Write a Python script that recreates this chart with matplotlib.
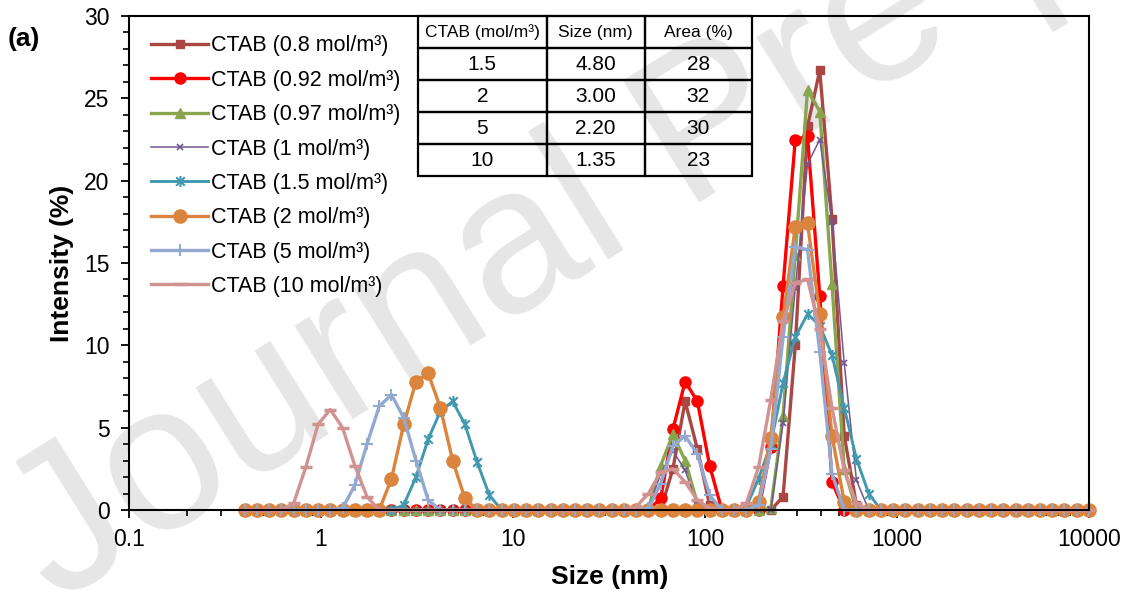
import matplotlib
matplotlib.use("Agg")
import matplotlib.pyplot as plt
from matplotlib.path import Path
from matplotlib.ticker import LogLocator, FixedLocator, MultipleLocator, NullFormatter

plt.rcParams['font.family'] = ['Liberation Sans', 'DejaVu Sans']

# DLS size classes (nm)
size_nm = [0.4, 0.4632, 0.5365, 0.6213, 0.7195, 0.8332, 0.9649, 1.117, 1.294, 1.499,
           1.736, 2.010, 2.328, 2.696, 3.122, 3.615, 4.187, 4.849, 5.615, 6.503,
           7.531, 8.721, 10.10, 11.70, 13.54, 15.69, 18.17, 21.04, 24.36, 28.21,
           32.67, 37.84, 43.82, 50.75, 58.77, 68.06, 78.82, 91.28, 105.7, 122.4,
           141.8, 164.2, 190.1, 220.2, 255.0, 295.3, 342.0, 396.1, 458.7, 531.2,
           615.1, 712.4, 825.0, 955.4, 1106, 1281, 1484, 1718, 1990, 2305,
           2669, 3091, 3580, 4145, 4801, 5560, 6439, 7456, 8635, 10000]

# intensity (%) at the size classes where it is not zero
ctab_08 = {68.06: 2.5, 78.82: 6.6, 91.28: 3.7, 105.7: 0.3,
           255.0: 0.8, 295.3: 10.0, 342.0: 23.3, 396.1: 26.7, 458.7: 17.7, 531.2: 4.5, 615.1: 0.3}
ctab_092 = {58.77: 0.7, 68.06: 4.9, 78.82: 7.8, 91.28: 6.6, 105.7: 2.7,
            220.2: 3.8, 255.0: 13.6, 295.3: 22.5, 342.0: 22.7, 396.1: 13.0, 458.7: 1.7}
ctab_097 = {50.75: 0.1, 58.77: 2.7, 68.06: 4.6, 78.82: 3.0, 91.28: 0.4,
            220.2: 0.1, 255.0: 5.7, 295.3: 15.5, 342.0: 25.5, 396.1: 24.2, 458.7: 13.7, 531.2: 2.5}
ctab_1 = {50.75: 0.1, 58.77: 2.2, 68.06: 3.6, 78.82: 2.4, 91.28: 0.3,
          255.0: 5.3, 295.3: 13.5, 342.0: 21.0, 396.1: 22.5, 458.7: 17.5, 531.2: 8.9, 615.1: 1.8}
ctab_15 = {2.696: 0.3, 3.122: 2.0, 3.615: 4.3, 4.187: 6.0, 4.849: 6.6, 5.615: 5.2, 6.503: 2.9, 7.531: 0.9,
           164.2: 0.2, 190.1: 1.9, 220.2: 4.0, 255.0: 7.7, 295.3: 10.5, 342.0: 11.9, 396.1: 11.2,
           458.7: 9.4, 531.2: 6.2, 615.1: 3.1, 712.4: 1.0}
ctab_2 = {2.328: 1.9, 2.696: 5.2, 3.122: 7.8, 3.615: 8.3, 4.187: 6.2, 4.849: 3.0, 5.615: 0.7,
          190.1: 0.5, 220.2: 4.4, 255.0: 11.7, 295.3: 17.2, 342.0: 17.4, 396.1: 11.9, 458.7: 4.5, 531.2: 0.5}
ctab_5 = {1.294: 0.1, 1.499: 1.5, 1.736: 4.0, 2.010: 6.3, 2.328: 7.0, 2.696: 5.6, 3.122: 3.0, 3.615: 0.6,
          50.75: 0.1, 58.77: 1.6, 68.06: 3.9, 78.82: 4.5, 91.28: 3.4, 105.7: 0.9,
          190.1: 0.3, 220.2: 3.7, 255.0: 10.5, 295.3: 16.0, 342.0: 15.8, 396.1: 9.6, 458.7: 2.2}
ctab_10 = {0.7195: 0.4, 0.8332: 2.6, 0.9649: 5.2, 1.117: 6.1, 1.294: 5.0, 1.499: 2.7, 1.736: 0.8,
           43.82: 0.2, 50.75: 1.0, 58.77: 2.3, 68.06: 2.5, 78.82: 1.7, 91.28: 0.6, 105.7: 0.1,
           164.2: 0.4, 190.1: 2.6, 220.2: 6.7, 255.0: 11.5, 295.3: 13.8, 342.0: 14.0, 396.1: 11.0,
           458.7: 6.2, 531.2: 2.4, 615.1: 0.4}

labels = ["CTAB (0.8 mol/m³)", "CTAB (0.92 mol/m³)", "CTAB (0.97 mol/m³)", "CTAB (1 mol/m³)",
          "CTAB (1.5 mol/m³)", "CTAB (2 mol/m³)", "CTAB (5 mol/m³)", "CTAB (10 mol/m³)"]

# inset table
table_cols = ["CTAB (mol/m³)", "Size (nm)", "Area (%)"]
table_rows = [["1.5", "4.80", "28"],
              ["2", "3.00", "32"],
              ["5", "2.20", "30"],
              ["10", "1.35", "23"]]

# excel style star marker: x with a vertical bar
star = Path([(-1, -1), (1, 1), (-1, 1), (1, -1), (0, -1.3), (0, 1.3)],
            [Path.MOVETO, Path.LINETO, Path.MOVETO, Path.LINETO, Path.MOVETO, Path.LINETO])

styles = [
    dict(color='#AA4643', marker='s', ms=6, lw=2.4),
    dict(color='#FF0000', marker='o', ms=8, lw=2.4),
    dict(color='#89A54E', marker='^', ms=7, lw=2.4),
    dict(color='#71588F', marker='x', ms=5, lw=1.1, mew=1.2),
    dict(color='#4198AF', marker=star, ms=8, lw=2.1, mew=1.5),
    dict(color='#DB843D', marker='o', ms=9.5, lw=2.4),
    dict(color='#93A9CF', marker='+', ms=9, lw=2.4, mew=1.5),
    dict(color='#D19392', marker='_', ms=8, lw=2.4, mew=2.5),
]

fig = plt.figure(figsize=(11.28, 5.93), dpi=100)
ax = fig.add_axes([0.1144, 0.140, 0.851, 0.833])
ax.set_facecolor('none')

# watermark of the source page, kept behind the chart
fig.text(0.05, -0.02, "Journal Pre-proof", rotation=32, fontsize=150, color='#e6e6e6',
         ha='left', va='baseline', rotation_mode='anchor', zorder=-5)

for data, lab, st in zip([ctab_08, ctab_092, ctab_097, ctab_1, ctab_15, ctab_2, ctab_5, ctab_10], labels, styles):
    y = [data.get(s, 0.0) for s in size_nm]
    ax.plot(size_nm, y, label=lab, clip_on=False, **st)

ax.set_xscale('log')
ax.set_xlim(0.1, 10000)
ax.set_ylim(0, 30)
ax.xaxis.set_major_locator(FixedLocator([0.1, 1, 10, 100, 1000, 10000]))
ax.set_xticklabels(["0.1", "1", "10", "100", "1000", "10000"])
ax.xaxis.set_minor_locator(LogLocator(base=10, subs=range(2, 10)))
ax.xaxis.set_minor_formatter(NullFormatter())
ax.yaxis.set_major_locator(MultipleLocator(5))
ax.yaxis.set_minor_locator(MultipleLocator(1))
ax.tick_params(which='major', direction='out', length=6, width=1.3, labelsize=16.5)
ax.tick_params(axis='x', which='major', pad=7)
ax.tick_params(axis='y', which='major', pad=8)
ax.tick_params(which='minor', direction='out', length=4, width=1.2)
for sp in ax.spines.values():
    sp.set_linewidth(1.5)

ax.set_xlabel("Size (nm)", fontsize=19, fontweight='bold')
ax.xaxis.set_label_coords(0.501, -0.112)
ax.set_ylabel("Intensity (%)", fontsize=19, fontweight='bold')
ax.yaxis.set_label_coords(-0.057, 0.5)
fig.text(0.007, 0.922, "(a)", fontsize=19, fontweight='bold')

ax.legend(loc='upper left', bbox_to_anchor=(0.014, 0.978), frameon=False, fontsize=15.5,
          handlelength=2.65, handletextpad=0.15, labelspacing=0.62, borderaxespad=0)

tab = ax.table(cellText=table_rows, colLabels=table_cols, cellLoc='center',
               colWidths=[0.134, 0.102, 0.112], bbox=[0.301, 0.676, 0.348, 0.324])
tab.auto_set_font_size(False)
for (r, c), cell in tab.get_celld().items():
    cell.set_linewidth(1.6)
    cell.set_edgecolor('black')
    cell.set_facecolor('none')
    cell.get_text().set_fontsize(12.5 if r == 0 else 15)

fig.savefig("out.png", dpi=100)
